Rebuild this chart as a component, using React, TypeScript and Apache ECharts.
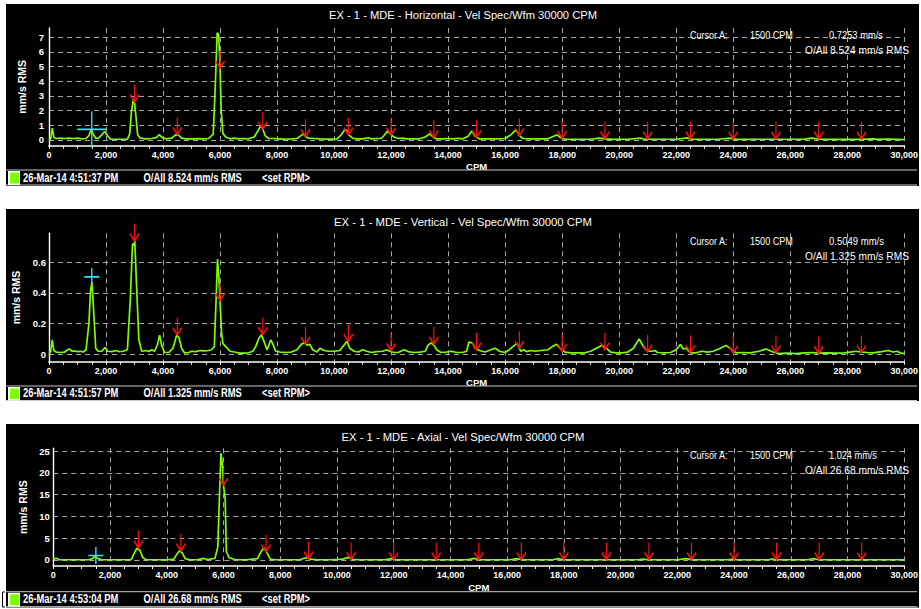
import React, { useEffect, useRef } from "react";
import * as echarts from "echarts";

// ---------------- data ----------------
const TITLES = [
  "EX - 1 - MDE - Horizontal - Vel Spec/Wfm 30000 CPM",
  "EX - 1 - MDE - Vertical - Vel Spec/Wfm 30000 CPM",
  "EX - 1 - MDE - Axial - Vel Spec/Wfm 30000 CPM",
];
const TIMESTAMPS = ["26-Mar-14 4:51:37 PM", "26-Mar-14 4:51:57 PM", "26-Mar-14 4:53:04 PM"];
const OVERALL_TEXT = ["O/All 8.524 mm/s RMS", "O/All 1.325 mm/s RMS", "O/All 26.68 mm/s RMS"];
const CURSOR_CPM = 1500;
const CURSOR_VALUES = [0.7253, 0.5049, 1.024];
const CURSOR_VALUE_TEXT = ["0.7253 mm/s", "0.5049 mm/s", "1.024 mm/s"];
const HARMONIC_CPM = [3000, 4500, 6000, 7500, 9000, 10500, 12000, 13500, 15000, 16500, 18000, 19500, 21000, 22500, 24000, 25500, 27000, 28500];
const H_ARROW_TIPS = [2.6, 0.38, 4.9, 0.75, 0.25, 0.35, 0.35, 0.18, 0.18, 0.3, 0.12, 0.1, 0.08, 0.08, 0.07, 0.08, 0.08, 0.07];
const V_ARROW_TIPS = [0.74, 0.127, 0.35, 0.13, 0.067, 0.084, 0.024, 0.067, 0.03, 0.04, 0.02, 0.03, 0.017, 0.012, 0.01, 0.012, 0.006, 0.012];
const A_ARROW_TIPS = [2.8, 2.1, 17.2, 1.9, 0.25, 0.15, 0.1, 0.05, 0.1, 0.1, 0.1, 0.1, 0.1, 0.1, 0.1, 0.1, 0.1, 0.1];
const Y_STEPS = [1, 0.2, 5];
const Y_RANGES = [[-0.39, 7.63], [-0.048, 0.789], [-1.38, 25.62]];

const H_SPECTRUM = [
  [0, 0], [60, 0.05], [115, 0.8], [175, 0.15], [260, 0.1], [400, 0.12], [550, 0.1], [700, 0.13], [850, 0.1], [1000, 0.12],
  [1150, 0.08], [1300, 0.1], [1400, 0.3], [1480, 0.72], [1560, 0.35], [1650, 0.1], [1750, 0.14], [1860, 0.38], [1950, 0.58],
  [2050, 0.3], [2150, 0.06], [2350, 0.05], [2550, 0.05], [2750, 0.06], [2830, 0.4], [2890, 1.9], [2950, 2.7], [3000, 2.55],
  [3050, 1.6], [3110, 0.35], [3200, 0.12], [3400, 0.08], [3600, 0.1], [3760, 0.16], [3870, 0.36], [3980, 0.15], [4100, 0.08],
  [4300, 0.12], [4450, 0.36], [4550, 0.32], [4650, 0.12], [4800, 0.08], [5000, 0.07], [5200, 0.09], [5400, 0.07], [5600, 0.1],
  [5760, 0.4], [5830, 3.5], [5900, 7.3], [5950, 7.2], [5980, 6.0], [6000, 4.9], [6040, 2.0], [6100, 0.45], [6200, 0.2],
  [6350, 0.08], [6500, 0.12], [6650, 0.08], [6800, 0.1], [7000, 0.08], [7200, 0.2], [7350, 0.7], [7430, 1.0], [7500, 0.75],
  [7580, 0.3], [7700, 0.1], [7900, 0.1], [8100, 0.08], [8300, 0.05], [8500, 0.07], [8700, 0.1], [8840, 0.3], [8920, 0.42],
  [9000, 0.25], [9100, 0.12], [9300, 0.1], [9500, 0.07], [9800, 0.06], [10100, 0.08], [10250, 0.35], [10380, 0.72],
  [10450, 0.65], [10520, 0.35], [10650, 0.12], [10800, 0.07], [11000, 0.08], [11200, 0.15], [11300, 0.08], [11500, 0.1],
  [11650, 0.1], [11760, 0.32], [11880, 0.62], [11980, 0.4], [12100, 0.2], [12250, 0.1], [12400, 0.12], [12550, 0.08],
  [12800, 0.07], [13000, 0.08], [13200, 0.2], [13350, 0.42], [13480, 0.2], [13600, 0.07], [13800, 0.07], [14000, 0.1],
  [14200, 0.07], [14350, 0.12], [14500, 0.07], [14700, 0.25], [14830, 0.62], [14950, 0.25], [15100, 0.08], [15400, 0.08],
  [15700, 0.07], [16000, 0.1], [16200, 0.35], [16380, 0.7], [16500, 0.3], [16620, 0.1], [16900, 0.08], [17200, 0.07],
  [17500, 0.08], [17700, 0.25], [17820, 0.35], [17950, 0.15], [18100, 0.05], [18500, 0.04], [19000, 0.05], [19300, 0.12],
  [19500, 0.08], [19800, 0.04], [20300, 0.05], [20750, 0.12], [20900, 0.05], [21500, 0.05], [22000, 0.05], [22380, 0.14],
  [22550, 0.05], [23000, 0.04], [23500, 0.05], [23900, 0.12], [24100, 0.04], [25000, 0.05], [25500, 0.05], [26000, 0.05],
  [26500, 0.06], [26750, 0.13], [27000, 0.06], [27500, 0.04], [28000, 0.05], [28500, 0.04], [28900, 0.07], [29100, 0.04],
  [29400, 0.06], [29700, 0.05], [30000, 0.02],
];

const V_SPECTRUM = [
  [0, 0], [60, 0.02], [115, 0.095], [170, 0.025], [250, 0.015], [400, 0.012], [550, 0.015], [650, 0.03], [720, 0.035],
  [800, 0.02], [900, 0.022], [1000, 0.018], [1100, 0.02], [1200, 0.015], [1300, 0.03], [1400, 0.2], [1460, 0.42],
  [1510, 0.47], [1560, 0.3], [1640, 0.04], [1720, 0.02], [1850, 0.02], [1970, 0.045], [2050, 0.02], [2200, 0.018],
  [2350, 0.025], [2450, 0.018], [2600, 0.02], [2750, 0.03], [2850, 0.35], [2930, 0.72], [2980, 0.71], [3010, 0.74],
  [3060, 0.5], [3150, 0.1], [3250, 0.02], [3400, 0.025], [3500, 0.018], [3600, 0.03], [3700, 0.02], [3800, 0.06],
  [3880, 0.125], [3950, 0.06], [4050, 0.012], [4200, 0.012], [4350, 0.04], [4480, 0.127], [4560, 0.11], [4650, 0.04],
  [4750, 0.01], [4900, 0.012], [5000, 0.02], [5150, 0.018], [5300, 0.025], [5450, 0.022], [5600, 0.025], [5700, 0.03],
  [5800, 0.05], [5860, 0.35], [5910, 0.62], [5960, 0.5], [6000, 0.35], [6050, 0.15], [6100, 0.07], [6200, 0.05],
  [6350, 0.02], [6500, 0.015], [6700, 0.008], [6850, 0.008], [7000, 0.01], [7150, 0.02], [7250, 0.05], [7350, 0.1],
  [7450, 0.127], [7550, 0.08], [7650, 0.03], [7780, 0.095], [7870, 0.06], [7950, 0.02], [8100, 0.015], [8300, 0.012],
  [8500, 0.015], [8700, 0.03], [8850, 0.065], [8950, 0.075], [9050, 0.06], [9150, 0.065], [9250, 0.03], [9400, 0.015],
  [9500, 0.04], [9650, 0.025], [9800, 0.02], [10000, 0.02], [10200, 0.025], [10350, 0.06], [10450, 0.085], [10550, 0.04],
  [10700, 0.02], [10850, 0.015], [11000, 0.03], [11150, 0.02], [11300, 0.012], [11500, 0.018], [11700, 0.02],
  [11850, 0.03], [11950, 0.02], [12100, 0.012], [12250, 0.012], [12450, 0.03], [12600, 0.018], [12800, 0.012],
  [13000, 0.015], [13200, 0.02], [13300, 0.06], [13400, 0.075], [13500, 0.06], [13600, 0.03], [13750, 0.012],
  [13950, 0.015], [14100, 0.02], [14300, 0.012], [14500, 0.012], [14650, 0.02], [14730, 0.08], [14850, 0.075],
  [14950, 0.04], [15100, 0.025], [15300, 0.015], [15500, 0.03], [15650, 0.04], [15800, 0.02], [16000, 0.012],
  [16150, 0.03], [16300, 0.055], [16420, 0.07], [16550, 0.02], [16650, 0.03], [16750, 0.018], [16900, 0.025],
  [17050, 0.02], [17250, 0.025], [17500, 0.03], [17650, 0.05], [17800, 0.065], [17950, 0.035], [18100, 0.015],
  [18300, 0.01], [18600, 0.01], [18800, 0.01], [19000, 0.02], [19200, 0.04], [19400, 0.06], [19550, 0.04], [19700, 0.015],
  [19900, 0.01], [20100, 0.01], [20300, 0.015], [20500, 0.04], [20700, 0.1], [20850, 0.05], [21000, 0.02], [21150, 0.02],
  [21250, 0.025], [21350, 0.012], [21600, 0.01], [21800, 0.012], [22000, 0.03], [22150, 0.065], [22250, 0.035],
  [22350, 0.04], [22500, 0.01], [22700, 0.01], [22900, 0.02], [23100, 0.015], [23300, 0.02], [23550, 0.04], [23750, 0.058],
  [23950, 0.03], [24100, 0.01], [24300, 0.012], [24600, 0.01], [24900, 0.02], [25150, 0.035], [25400, 0.015], [25600, 0.005],
  [25900, 0.008], [26200, 0.005], [26500, 0.01], [26800, 0.012], [27000, 0.008], [27300, 0.01], [27600, 0.008],
  [27900, 0.01], [28100, 0.015], [28300, 0.02], [28500, 0.015], [28700, 0.012], [28900, 0.01], [29200, 0.018],
  [29450, 0.025], [29600, 0.015], [29750, 0.02], [29850, 0.01], [30000, 0.005],
];

const A_SPECTRUM = [
  [0, 0.1], [100, 0.4], [200, 0.1], [400, 0.05], [800, 0.05], [1200, 0.05], [1350, 0.2], [1470, 0.8], [1580, 0.3],
  [1700, 0.05], [2000, 0.05], [2400, 0.05], [2750, 0.1], [2850, 1.5], [2950, 2.7], [3050, 2.3], [3150, 0.6], [3250, 0.1],
  [3500, 0.05], [4000, 0.05], [4250, 0.2], [4350, 1.3], [4450, 2.1], [4550, 1.6], [4650, 0.3], [4800, 0.05], [5100, 0.1],
  [5300, 0.35], [5450, 0.1], [5700, 0.4], [5800, 3.0], [5860, 15], [5910, 24.5], [5960, 22], [6000, 17.2], [6060, 14],
  [6100, 2], [6200, 0.5], [6400, 0.1], [6800, 0.05], [7200, 0.3], [7330, 2.0], [7430, 2.8], [7530, 1.7], [7650, 0.2],
  [7800, 0.05], [8300, 0.05], [8700, 0.1], [8850, 0.4], [8950, 0.55], [9050, 0.2], [9300, 0.05], [9800, 0.05],
  [10200, 0.2], [10400, 0.6], [10550, 0.15], [10800, 0.05], [11700, 0.05], [11900, 0.3], [12050, 0.1], [13000, 0.05],
  [14600, 0.05], [14850, 0.35], [15000, 0.1], [16100, 0.05], [16350, 0.3], [16500, 0.08], [17600, 0.05], [17800, 0.3],
  [17950, 0.08], [19000, 0.05], [20600, 0.05], [20800, 0.2], [20950, 0.05], [22000, 0.05], [22300, 0.3], [22500, 0.08],
  [23800, 0.05], [23950, 0.2], [24100, 0.05], [25200, 0.05], [25350, 0.2], [25500, 0.05], [26600, 0.05], [26800, 0.3],
  [27000, 0.05], [30000, 0.05],
];

const SPECTRA = [H_SPECTRUM, V_SPECTRUM, A_SPECTRUM];
const ARROW_TIPS = [H_ARROW_TIPS, V_ARROW_TIPS, A_ARROW_TIPS];

// ---------------- layout / style ----------------
const FAMILY = "'Liberation Sans Narrow','Arial Narrow','Liberation Sans',Arial,sans-serif";
const GREEN = "#7cff00";
const GRID_COLOR = "#a6a6a6";
const LAYOUT = [
  { bg: [6, 4, 913, 182], titleY: 15, c1: 35, c2: 50, sTop: 170, sBot: 185, sText: 178, grid: { left: 49, top: 28, width: 859, height: 117.7 }, yMargin: 5, xMargin: 5, nameGap: 20, cross: [29, 36] },
  { bg: [6, 209, 913, 192], titleY: 221.7, c1: 241, c2: 256, sTop: 386, sBot: 400.5, sText: 392.7, grid: { left: 49, top: 233.3, width: 859, height: 128.4 }, yMargin: 3, xMargin: 4.5, nameGap: 20, cross: [15, 18] },
  { bg: [6, 424, 913, 183.5], titleY: 436.7, c1: 455, c2: 470, sTop: 591.7, sBot: 606.7, sText: 599, grid: { left: 53.3, top: 448.3, width: 855, height: 117.7 }, yMargin: 3.5, xMargin: 4, nameGap: 22, cross: [15, 17] },
];

const ARROW_PATH = "path://M4.5,0L4.5,17M0,10L4.5,17L9,10";
const CROSS_PATH = "path://M0,1L2,1M1,0L1,2";

function fitScale(text: string, font: string, target: number) {
  const ctx = document.createElement("canvas").getContext("2d");
  if (!ctx) return 1;
  ctx.font = font;
  const w = ctx.measureText(text).width;
  return w > 0 ? target / w : 1;
}

function textEl(text: string, x: number, y: number, target: number, size: number, weight: string, align: string) {
  const font = `${weight} ${size}px ${FAMILY}`;
  return {
    type: "text",
    x,
    y,
    z: 100,
    silent: true,
    scaleX: fitScale(text, font, target),
    style: { text, fill: "#ffffff", fontSize: size, fontWeight: weight, fontFamily: FAMILY, align, verticalAlign: "middle" },
  };
}

function buildOption() {
  const graphics: any[] = [];
  LAYOUT.forEach((L, i) => {
    const [bx, by, bw, bh] = L.bg;
    graphics.push({ type: "rect", z: -100, silent: true, shape: { x: bx, y: by, width: bw, height: bh }, style: { fill: "#000000" } });
    graphics.push({ type: "line", z: 50, silent: true, shape: { x1: 6, y1: L.sTop, x2: 917, y2: L.sTop }, style: { stroke: "#c8c8c8", lineWidth: 1 } });
    graphics.push({ type: "line", z: 50, silent: true, shape: { x1: 6, y1: L.sBot, x2: 917, y2: L.sBot }, style: { stroke: "#c8c8c8", lineWidth: 1 } });
    graphics.push({ type: "rect", z: 50, silent: true, shape: { x: 8, y: L.sTop + 1, width: 12, height: L.sBot - L.sTop - 1 }, style: { fill: "#ffffff" } });
    graphics.push({ type: "rect", z: 51, silent: true, shape: { x: 10, y: L.sTop + 2.5, width: 9, height: L.sBot - L.sTop - 4 }, style: { fill: GREEN } });
    const titleW = [268, 258, 244][i];
    graphics.push(textEl(TITLES[i], 463, L.titleY, titleW, 11.5, "normal", "center"));
    graphics.push(textEl("Cursor A:", 690, L.c1, 38, 11.5, "normal", "left"));
    graphics.push(textEl(`${CURSOR_CPM} CPM`, 750, L.c1, 43, 11.5, "normal", "left"));
    graphics.push(textEl(CURSOR_VALUE_TEXT[i], 829, L.c1, [54, 55, 48][i], 11.5, "normal", "left"));
    graphics.push(textEl(OVERALL_TEXT[i], 909, L.c2, 104, 11.5, "normal", "right"));
    graphics.push(textEl(TIMESTAMPS[i], 23, L.sText, 95.5, 12, "bold", "left"));
    graphics.push(textEl(OVERALL_TEXT[i], 143.5, L.sText, 98.5, 12, "bold", "left"));
    graphics.push(textEl("<set RPM>", 262, L.sText, 48, 12, "bold", "left"));
  });
  graphics.push({ type: "polyline", silent: true, shape: { points: [[5, 592], [2.5, 592], [2.5, 607], [5, 607]] }, style: { stroke: "#000", lineWidth: 1, fill: null } });

  const axisText = { color: "#ffffff", fontFamily: FAMILY, fontWeight: "bold" as const, fontSize: 9 };

  const grid = LAYOUT.map((L) => ({ ...L.grid, containLabel: false }));
  const xAxis = LAYOUT.map((L, i) => ({
    type: "value",
    gridIndex: i,
    min: 0,
    max: 30000,
    interval: 2000,
    axisLine: { show: true, onZero: false, lineStyle: { color: "#ffffff", width: 1.6 } },
    axisTick: { show: true, length: 3, lineStyle: { color: "#ffffff", width: 1 } },
    minorTick: { show: true, splitNumber: 4, length: 3, lineStyle: { color: "#ffffff", width: 1 } },
    axisLabel: { ...axisText, margin: L.xMargin, formatter: (v: number) => v.toLocaleString("en-US") },
    splitLine: { show: true, lineStyle: { color: GRID_COLOR, type: [5, 4], width: 1 } },
    name: "CPM",
    nameLocation: "middle",
    nameGap: 16,
    nameTextStyle: { ...axisText, fontSize: 9.5 },
  }));
  const yAxis = LAYOUT.map((L, i) => ({
    type: "value",
    gridIndex: i,
    min: Y_RANGES[i][0],
    max: Y_RANGES[i][1],
    minInterval: Y_STEPS[i],
    maxInterval: Y_STEPS[i],
    axisLine: { show: true, onZero: false, lineStyle: { color: "#ffffff", width: 1.4 } },
    axisTick: { show: false },
    axisLabel: { ...axisText, fontSize: 9.5, margin: L.yMargin, showMinLabel: false, showMaxLabel: false },
    splitLine: { show: true, showMinLine: false, showMaxLine: false, lineStyle: { color: GRID_COLOR, type: [5, 4], width: 1 } },
    name: "mm/s RMS",
    nameLocation: "middle",
    nameGap: L.nameGap,
    nameTextStyle: { ...axisText, fontSize: 10.5 },
  }));

  const series: any[] = [];
  LAYOUT.forEach((L, i) => {
    series.push({
      type: "line",
      xAxisIndex: i,
      yAxisIndex: i,
      data: SPECTRA[i],
      showSymbol: false,
      symbol: "none",
      silent: true,
      z: 3,
      lineStyle: { color: GREEN, width: 1.7 },
    });
    series.push({
      type: "scatter",
      xAxisIndex: i,
      yAxisIndex: i,
      data: HARMONIC_CPM.map((c, k) => [c, ARROW_TIPS[i][k]]),
      symbol: ARROW_PATH,
      symbolSize: [9, 17],
      symbolOffset: [0, -8.5],
      silent: true,
      z: 4,
      itemStyle: { color: "rgba(0,0,0,0)", borderColor: "#ff1010", borderWidth: 1.6, opacity: 1 },
    });
    series.push({
      type: "scatter",
      xAxisIndex: i,
      yAxisIndex: i,
      data: [[CURSOR_CPM, CURSOR_VALUES[i]]],
      symbol: CROSS_PATH,
      symbolSize: L.cross,
      silent: true,
      z: 5,
      itemStyle: { color: "rgba(0,0,0,0)", borderColor: "#35e4f2", borderWidth: 1.5, opacity: 1 },
    });
  });

  return {
    animation: false,
    backgroundColor: "#ffffff",
    grid,
    xAxis,
    yAxis,
    series,
    graphic: { elements: graphics },
  };
}

export default function App() {
  const ref = useRef<HTMLDivElement>(null);
  useEffect(() => {
    if (!ref.current) return;
    const chart = echarts.init(ref.current, undefined, { renderer: "svg" });
    chart.setOption(buildOption() as any);
    return () => chart.dispose();
  }, []);
  return <div ref={ref} style={{ position: "absolute", left: 0, top: 0, width: 921, height: 609 }} />;
}
